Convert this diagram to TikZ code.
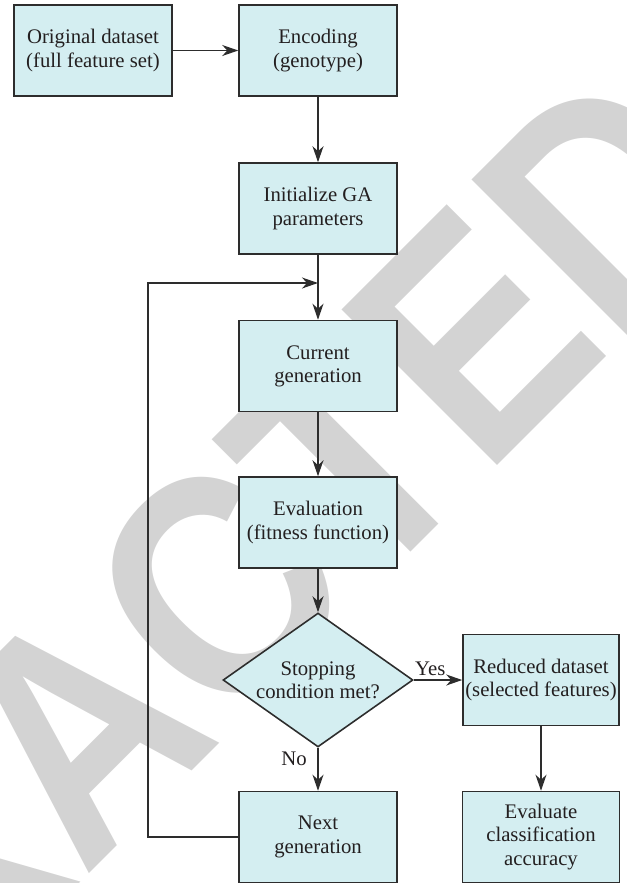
\documentclass[tikz,border=0pt]{standalone}
\usepackage{fontspec}
\setmainfont{Liberation Serif}
\newfontfamily\stampfont{Liberation Sans}
\usetikzlibrary{arrows.meta,shapes.geometric}

\definecolor{boxfill}{RGB}{212,238,241}
\definecolor{boxline}{RGB}{45,45,45}
\definecolor{textdark}{RGB}{35,31,32}
\definecolor{stampgray}{RGB}{211,211,211}

\tikzset{
  gabox/.style={draw=boxline,fill=boxfill,line width=.9pt,minimum width=3.16cm,minimum height=1.82cm,
    align=center,text=textdark,font=\fontsize{11.8}{13.2}\selectfont},
  gadiamond/.style={gabox,diamond,aspect=1.42,inner sep=0pt,minimum width=3.8cm,minimum height=2.68cm},
  flow/.style={draw=boxline,line width=.75pt,-{Stealth[length=3.2mm,width=2.2mm,inset=1mm]}},
  lbl/.style={text=textdark,font=\fontsize{11.8}{13.2}\selectfont,inner sep=2pt}
}

\begin{document}
\begin{tikzpicture}[x=0.02cm,y=-0.02cm]

      \useasboundingbox (0,0) rectangle (626,883);

      \node[rotate=45,anchor=base,inner sep=0pt,text=stampgray] (stamp) at (155,808)
        {\stampfont\bfseries\fontsize{182}{182}\selectfont\scalebox{0.86}[1]{RETRACTED}};

      \node[gabox] (orig) at (93,50.5) {Original dataset\\(full feature set)};
      \node[gabox] (enc) at (318,50.5) {Encoding\\(genotype)};
      \node[gabox] (init) at (318,208.5) {Initialize GA\\parameters};
      \node[gabox] (cur) at (318,366) {Current\\generation};
      \node[gabox] (eval) at (318,522.5) {Evaluation\\(fitness function)};
      \node[gadiamond] (stop) at (318,680) {Stopping\\condition met?};
      \node[gabox,minimum width=3.12cm,inner xsep=1pt] (red) at (541,680) {Reduced dataset\\(selected features)};
      \node[gabox] (next) at (318,837) {Next\\generation};
      \node[gabox,minimum width=3.14cm] (acc) at (541,837) {Evaluate\\classification\\accuracy};

      \coordinate (join) at (318,283);
      \coordinate (turn) at (148,283);

      \draw[flow] (orig) -- (enc);
      \draw[flow] (enc) -- (init);
      \draw[flow] (init) -- (cur);
      \draw[flow] (next.west) -| (turn) -- (join);
      \draw[flow] (cur) -- (eval);
      \draw[flow] (eval) -- (stop);
      \draw[flow] (stop) -- node[lbl,above,pos=.34] {Yes} (red);
      \draw[flow] (stop) -- node[lbl,left=4pt,pos=.25] {No} (next);
      \draw[flow] (red) -- (acc);

    \end{tikzpicture}
\end{document}
